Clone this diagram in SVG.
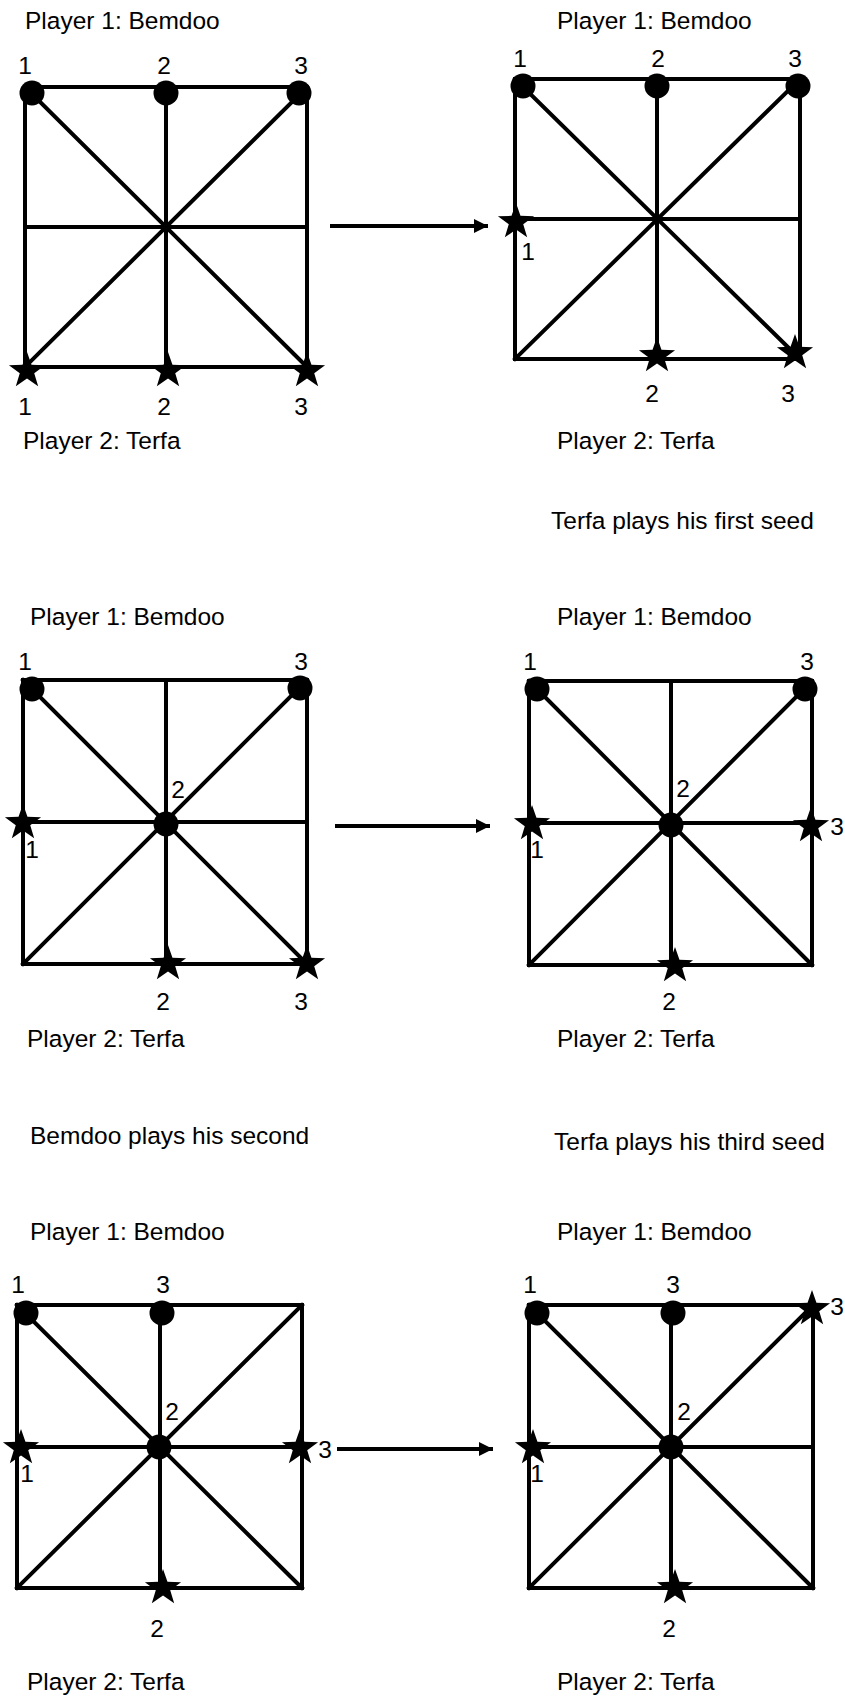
<svg xmlns="http://www.w3.org/2000/svg" xmlns:xlink="http://www.w3.org/1999/xlink" width="845" height="1697" viewBox="0 0 845 1697">
<style>
text{font-family:"Liberation Sans",Arial,sans-serif;font-size:24.5px;fill:#000}
.n{text-anchor:middle}
.grid{fill:none;stroke:#000;stroke-width:4;stroke-linecap:square}
.conn{stroke:#000;stroke-width:3.8;fill:none}
circle{fill:#000}
</style>
<defs>
<path id="star" d="M0,-19 L4.46,-6.14 L18.07,-5.87 L7.23,2.35 L11.17,15.37 L0,7.6 L-11.17,15.37 L-7.23,2.35 L-18.07,-5.87 L-4.46,-6.14 Z" fill="#000"/>
<marker id="ah" markerUnits="userSpaceOnUse" markerWidth="15" markerHeight="15" refX="14" refY="7" orient="auto">
<path d="M0,0 L14,7 L0,14 Z" fill="#000"/>
</marker>
</defs>
<rect width="845" height="1697" fill="#fff"/>

<g id="board1">
<path class="grid" d="M25,87 H307 V367 H25 Z M166,87 V367 M25,227 H307 M25,87 L307,367 M307,87 L25,367"/>
<circle cx="32" cy="93" r="12.5"/><circle cx="166" cy="93" r="12.5"/><circle cx="299" cy="93" r="12.5"/>
<use xlink:href="#star" x="27" y="371"/><use xlink:href="#star" x="168" y="371"/><use xlink:href="#star" x="307" y="371"/>
<text x="25" y="29">Player 1: Bemdoo</text>
<text class="n" x="25" y="74">1</text><text class="n" x="164" y="74">2</text><text class="n" x="301" y="74">3</text>
<text class="n" x="25" y="415">1</text><text class="n" x="164" y="415">2</text><text class="n" x="301" y="415">3</text>
<text x="23" y="449">Player 2: Terfa</text>
</g>

<g id="board2">
<path class="grid" d="M515,79 H800 V359 H515 Z M657,79 V359 M515,219 H800 M515,79 L800,359 M800,79 L515,359"/>
<circle cx="523" cy="86" r="12.5"/><circle cx="657" cy="86" r="12.5"/><circle cx="798" cy="86" r="12.5"/>
<use xlink:href="#star" x="516" y="222"/><use xlink:href="#star" x="657" y="356"/><use xlink:href="#star" x="795" y="353"/>
<text x="557" y="29">Player 1: Bemdoo</text>
<text class="n" x="520" y="67">1</text><text class="n" x="658" y="67">2</text><text class="n" x="795" y="67">3</text>
<text class="n" x="528" y="260">1</text><text class="n" x="652" y="402">2</text><text class="n" x="788" y="402">3</text>
<text x="557" y="449">Player 2: Terfa</text>
<text x="551" y="529">Terfa plays his first seed</text>
</g>

<g id="board3">
<path class="grid" d="M23,680 H307 V964 H23 Z M166,680 V964 M23,822 H307 M23,680 L307,964 M307,680 L23,964"/>
<circle cx="32" cy="689" r="12.5"/><circle cx="300" cy="688" r="12.5"/><circle cx="166" cy="824" r="12.5"/>
<use xlink:href="#star" x="23" y="823"/><use xlink:href="#star" x="168" y="964"/><use xlink:href="#star" x="307" y="964"/>
<text x="30" y="625">Player 1: Bemdoo</text>
<text class="n" x="25" y="670">1</text><text class="n" x="301" y="670">3</text>
<text class="n" x="178" y="798">2</text>
<text class="n" x="32" y="858">1</text>
<text class="n" x="163" y="1010">2</text><text class="n" x="301" y="1010">3</text>
<text x="27" y="1047">Player 2: Terfa</text>
<text x="30" y="1144">Bemdoo plays his second</text>
</g>

<g id="board4">
<path class="grid" d="M529,681 H812 V965 H529 Z M671,681 V965 M529,823 H812 M529,681 L812,965 M812,681 L529,965"/>
<circle cx="537" cy="689" r="12.5"/><circle cx="805" cy="689" r="12.5"/><circle cx="671" cy="825" r="12.5"/>
<use xlink:href="#star" x="532" y="824"/><use xlink:href="#star" x="811" y="826"/><use xlink:href="#star" x="675" y="966"/>
<text x="557" y="625">Player 1: Bemdoo</text>
<text class="n" x="530" y="670">1</text><text class="n" x="807" y="670">3</text>
<text class="n" x="683" y="797">2</text>
<text class="n" x="537" y="858">1</text><text class="n" x="837" y="835">3</text>
<text class="n" x="669" y="1010">2</text>
<text x="557" y="1047">Player 2: Terfa</text>
<text x="554" y="1150">Terfa plays his third seed</text>
</g>

<g id="board5">
<path class="grid" d="M17,1305 H302 V1588 H17 Z M160,1305 V1588 M17,1447 H302 M17,1305 L302,1588 M302,1305 L17,1588"/>
<circle cx="26" cy="1313" r="12.5"/><circle cx="162" cy="1313" r="12.5"/><circle cx="159" cy="1447" r="12.5"/>
<use xlink:href="#star" x="21" y="1448"/><use xlink:href="#star" x="300" y="1448"/><use xlink:href="#star" x="163" y="1588"/>
<text x="30" y="1240">Player 1: Bemdoo</text>
<text class="n" x="18" y="1293">1</text><text class="n" x="163" y="1293">3</text>
<text class="n" x="172" y="1420">2</text>
<text class="n" x="27" y="1482">1</text><text class="n" x="325" y="1458">3</text>
<text class="n" x="157" y="1637">2</text>
<text x="27" y="1690">Player 2: Terfa</text>
</g>

<g id="board6">
<path class="grid" d="M529,1305 H813 V1588 H529 Z M671,1305 V1588 M529,1447 H813 M529,1305 L813,1588 M813,1305 L529,1588"/>
<circle cx="537" cy="1313" r="12.5"/><circle cx="673" cy="1313" r="12.5"/><circle cx="671" cy="1447" r="12.5"/>
<use xlink:href="#star" x="812" y="1309"/><use xlink:href="#star" x="533" y="1448"/><use xlink:href="#star" x="675" y="1588"/>
<text x="557" y="1240">Player 1: Bemdoo</text>
<text class="n" x="530" y="1293">1</text><text class="n" x="673" y="1293">3</text>
<text class="n" x="837" y="1315">3</text>
<text class="n" x="684" y="1420">2</text>
<text class="n" x="537" y="1482">1</text>
<text class="n" x="669" y="1637">2</text>
<text x="557" y="1690">Player 2: Terfa</text>
</g>

<g id="connectors">
<line class="conn" x1="330" y1="226" x2="488" y2="226" marker-end="url(#ah)"/>
<line class="conn" x1="335" y1="826" x2="490" y2="826" marker-end="url(#ah)"/>
<line class="conn" x1="337" y1="1449" x2="493" y2="1449" marker-end="url(#ah)"/>
</g>
</svg>
